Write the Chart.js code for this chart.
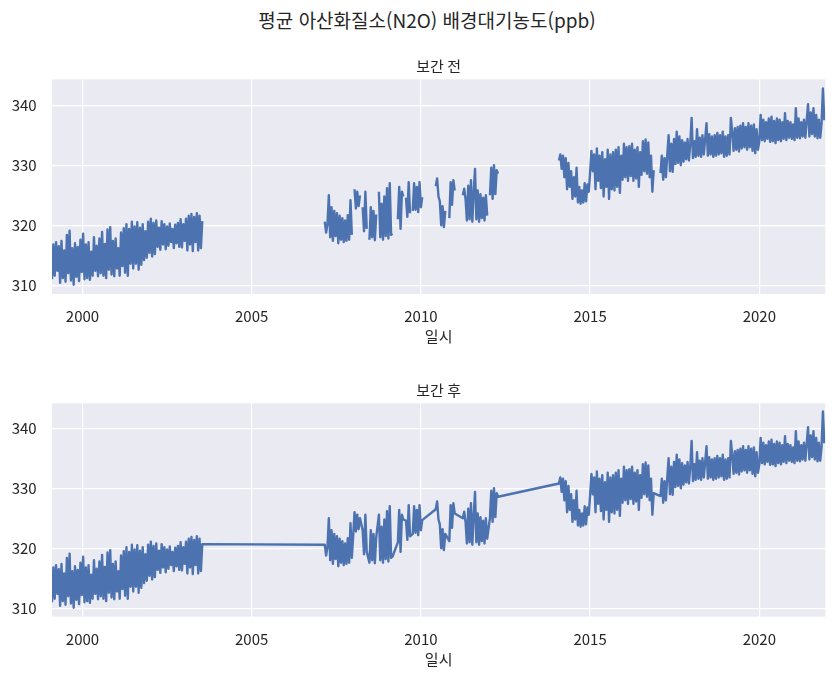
<!DOCTYPE html>
<html lang="ko">
<head>
<meta charset="utf-8">
<title>평균 아산화질소(N2O) 배경대기농도(ppb)</title>
<script src="https://cdn.jsdelivr.net/npm/chart.js@4.4.1/dist/chart.umd.min.js"></script>
<style>
  body { margin: 0; background: #fff; }
  #wrap { position: relative; width: 836px; height: 678px; font-family: "Noto Sans CJK KR", "Noto Sans", sans-serif; color: #262626; }
  #suptitle { position: absolute; top: 7px; left: 18px; width: 818px; text-align: center; font-size: 19px; line-height: 26px; }
  canvas { position: absolute; left: 0; }
  #c1 { top: 40px; }
  #c2 { top: 360px; }
</style>
</head>
<body>
<div id="wrap">
  <div id="suptitle">평균 아산화질소(N2O) 배경대기농도(ppb)</div>
  <canvas id="c1" width="836" height="320"></canvas>
  <canvas id="c2" width="836" height="318"></canvas>
</div>
<script>
// 관측 간격(년) - 각 구간은 시작 시점부터 같은 간격으로 읽은 값
const step = 0.04;
const xTicks = [2000, 2005, 2010, 2015, 2020];
const yTicks = [310, 320, 330, 340];

// 1999 ~ 2003
const seg1Start = 1999.10;
const seg1 = [311.0, 316.8, 311.6, 317.2, 312.4, 316.5, 310.4, 317.4, 311.2, 315.8,
  310.6, 318.4, 312.0, 319.1, 310.8, 316.2, 310.1, 317.0, 311.4, 316.4,
  310.7, 317.6, 312.2, 318.6, 311.0, 316.8, 311.2, 317.2, 310.9, 315.6,
  311.6, 318.0, 312.4, 316.6, 311.5, 317.8, 312.0, 318.9, 311.6, 316.9,
  311.2, 319.3, 312.6, 319.7, 311.8, 317.4, 311.5, 317.8, 312.8, 316.2,
  311.6, 318.8, 313.2, 319.5, 312.1, 320.2, 311.6, 319.4, 313.6, 320.6,
  312.8, 319.8, 313.6, 320.5, 312.6, 319.6, 313.4, 320.2, 314.2, 319.0,
  314.6, 320.6, 315.4, 321.1, 314.8, 320.4, 315.2, 320.8, 316.4, 319.6,
  315.9, 320.7, 316.8, 320.2, 316.0, 319.8, 316.6, 320.3, 317.2, 319.4,
  316.2, 320.1, 317.0, 320.4, 316.4, 321.0, 316.3, 320.2, 317.4, 321.1,
  315.8, 321.6, 316.8, 321.9, 315.7, 321.4, 317.2, 322.0, 315.8, 321.6,
  316.2, 320.7];

// 2007 ~ 2012 (결측 많음)
const seg2Start = 2007.16;
const seg2 = [320.6, 318.8, 320.2, 325.0, 318.0, 323.0, 317.4, 322.4, 318.2,
  322.0, 317.0, 321.6, 317.6, 321.2, 317.2, 320.8, 317.4, 321.7,
  317.6, 324.2, 318.4, null, 326.0, 322.8, 325.6, 323.2, 325.0, null,
  323.0, 319.0, 325.6, 319.4, null, 317.6, 323.0, 318.0, 322.4, 317.5, 321.8, null,
  325.6, 318.0, 323.6, 317.6, 324.8, 318.2, 326.2, 317.8, 327.0, 318.4, 318.6,
  null, null, null, 321.0, 326.4, 319.4, 325.6, 324.8,
  null, 324.6, 321.4, 327.2, 322.0, null,
  322.4, 327.0, 322.6, 326.4, 322.2, 327.2, 323.0, 324.7,
  null, null, null, null, null, null, null, null, null,
  326.5, 327.8, 324.8, 324.0, 320.0, 323.2, 319.7, 322.4, null, null,
  321.2, 327.2, 323.4, 327.5, 325.8, null, null, null, null, null,
  325.0, 326.1, 324.4, 320.8, 326.6, 321.0, 327.5, 320.6, 325.4,
  329.4, 321.0, 325.8, 320.6, 325.2, 321.2, 324.6, 320.8, 325.0, 321.6, null,
  325.0, 329.6, 324.4, 330.0, 325.2, 329.2, 328.6];

// 2014 ~ 2016
const seg3Start = 2014.08;
const seg3 = [330.8, 331.8, 329.4, 331.6, 328.0, 331.2, 326.0, 330.4, 326.4, 329.0,
  324.4, 328.0, 324.8, 329.6, 323.8, 326.4, 323.6, 325.8, 323.8, 327.0,
  324.0, 326.8, 325.6, 328.8, 332.4, 329.0, 331.8, 326.0, 332.8, 327.4,
  331.6, 326.2, 332.2, 324.8, 331.0, 326.4, 332.6, 324.4, 331.8, 326.0,
  332.2, 325.8, 332.6, 326.4, 333.0, 325.4, 331.6, 327.6, 333.6, 328.0,
  333.0, 327.4, 333.2, 328.2, 333.6, 327.4, 332.6, 327.8, 333.0, 326.4,
  332.2, 328.4, 334.0, 329.0, 334.3, 328.6, 333.8, 328.0, 331.6, 325.6, 329.2];

// 2017 ~ 2021
const seg4Start = 2017.08;
const seg4 = [328.7, 331.6, 327.6, 331.2, 328.0, 331.7, 335.0, 329.0, 333.6, 328.9,
  334.4, 330.2, 335.6, 330.4, 334.8, 330.0, 334.2, 330.6, 333.8, 331.0,
  334.4, 330.8, 333.6, 337.9, 331.2, 334.0, 331.4, 336.0, 331.6, 334.6,
  331.4, 335.0, 331.8, 334.4, 337.0, 331.6, 335.2, 331.8, 334.8, 331.4,
  335.0, 331.6, 335.4, 331.8, 335.0, 332.0, 335.6, 331.4, 334.8, 331.6,
  335.0, 331.8, 337.9, 335.6, 332.4, 336.2, 332.6, 336.4, 332.3, 336.6,
  332.8, 337.0, 333.0, 336.4, 332.6, 337.0, 333.0, 336.6, 332.4, 336.8,
  332.0, 336.0, 332.6, 334.0, 338.4, 334.2, 337.6, 334.0, 337.2, 334.4,
  337.8, 333.9, 338.1, 334.0, 337.4, 333.7, 337.8, 334.2, 337.6, 334.0,
  337.2, 334.4, 338.7, 334.2, 337.4, 334.6, 337.2, 334.4, 336.8, 334.2,
  339.5, 334.6, 337.8, 334.5, 337.2, 334.8, 337.6, 334.6, 337.4, 340.2,
  334.8, 338.8, 335.2, 339.5, 334.8, 338.4, 334.5, 337.6, 334.6, 337.0,
  342.8, 337.5];

const segments = [[seg1Start, seg1], [seg2Start, seg2], [seg3Start, seg3], [seg4Start, seg4]];

// 구간 사이에 빈 값을 넣어 끊어지게 만든다
const points = [];
segments.forEach(([start, vals], k) => {
  vals.forEach((v, i) => points.push({ x: +(start + i * step).toFixed(2), y: v }));
  if (k < segments.length - 1) {
    points.push({ x: +(start + vals.length * step).toFixed(2), y: null });
  }
});

const FONT = '"Noto Sans CJK KR", "Noto Sans", sans-serif';
const TEXT = '#262626';

const bgPlugin = {
  id: 'bg',
  beforeDraw(chart) {
    const { ctx, chartArea: a } = chart;
    ctx.save();
    ctx.fillStyle = '#EAEAF2';
    ctx.fillRect(a.left, a.top, a.right - a.left, a.bottom - a.top);
    ctx.restore();
  }
};

function makeChart(id, title, interp, padTop, padBottom, yMin, yMax) {
  return new Chart(document.getElementById(id), {
    type: 'line',
    data: {
      datasets: [{
        data: points,
        borderColor: '#4C72B0',
        borderWidth: 2.4,
        borderJoinStyle: 'round',
        pointRadius: 0,
        tension: 0,
        spanGaps: interp
      }]
    },
    options: {
      responsive: false,
      animation: false,
      layout: { padding: { left: 0, right: 10.7, top: padTop, bottom: padBottom } },
      plugins: {
        legend: { display: false },
        tooltip: { enabled: false },
        title: {
          display: true, text: title, color: TEXT, fullSize: false,
          font: { family: FONT, size: 15, weight: 'normal' },
          padding: { top: 0, bottom: 4.5 }
        }
      },
      scales: {
        x: {
          type: 'linear', min: 1999.10, max: 2021.95,
          afterBuildTicks: s => { s.ticks = xTicks.map(v => ({ value: v })); },
          afterFit: s => { s.height = 60; },
          grid: { color: '#ffffff', lineWidth: 1.2, drawTicks: false },
          border: { display: false },
          ticks: { callback: v => String(v), padding: 13.7, color: TEXT, maxRotation: 0, autoSkip: false,
                   font: { family: FONT, size: 15 } },
          title: { display: true, text: '일시', color: TEXT, font: { family: FONT, size: 15 },
                   padding: { top: 0, bottom: 8.6 } }
        },
        y: {
          min: yMin, max: yMax,
          afterBuildTicks: s => { s.ticks = yTicks.map(v => ({ value: v })); },
          afterFit: s => { s.width = 52; },
          grid: { color: '#ffffff', lineWidth: 1.2, drawTicks: false },
          border: { display: false },
          ticks: { callback: v => String(v), padding: 15.3, color: TEXT,
                   font: { family: FONT, size: 15 } }
        }
      }
    },
    plugins: [bgPlugin]
  });
}

makeChart('c1', '보간 전', false, 16.8, 6, 308.55, 344.33);
makeChart('c2', '보간 후', true, 20.8, 1.3, 308.6, 344.17);
</script>
</body>
</html>
